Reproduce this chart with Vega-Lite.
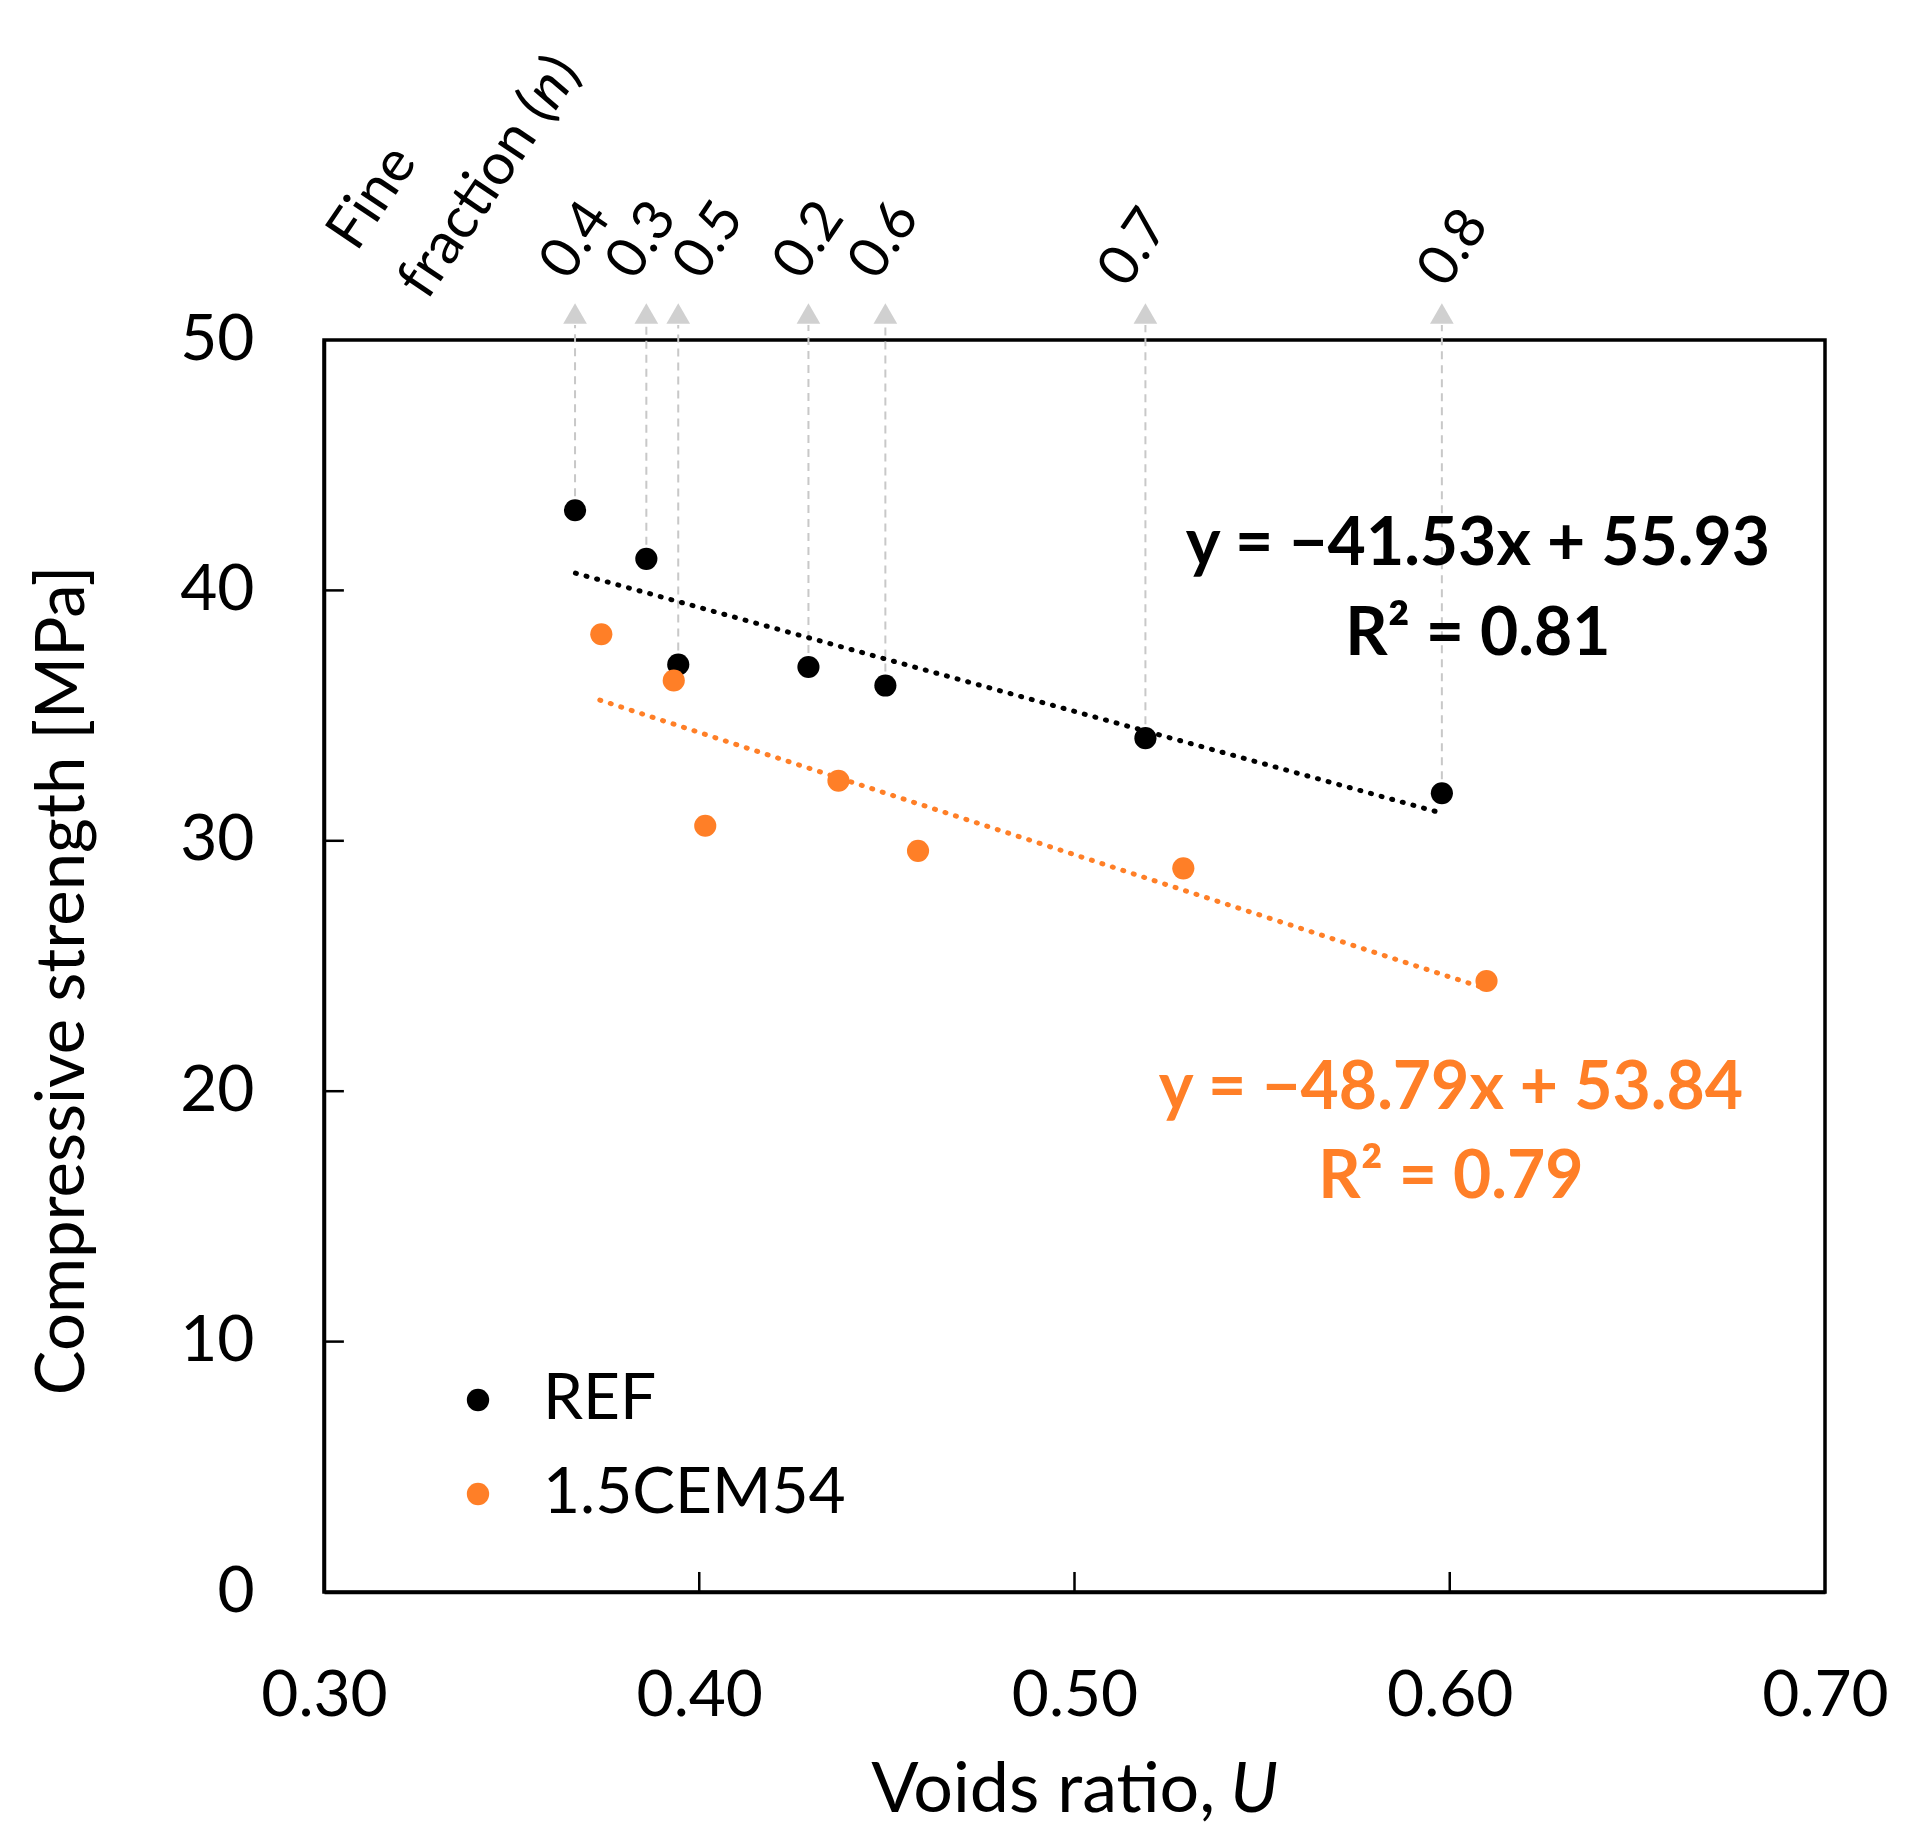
{
  "$schema": "https://vega.github.io/schema/vega-lite/v6.json",
  "width": 1501,
  "height": 1252,
  "autosize": {"type": "none"},
  "padding": {"left": 324, "top": 340, "right": 81, "bottom": 248},
  "background": "white",
  "config": {
    "font": "Lato",
    "view": {"stroke": "black", "strokeWidth": 3.5},
    "axis": {
      "grid": false,
      "domainColor": "black",
      "domainWidth": 3.5,
      "ticks": false,
      "tickSize": 0,
      "labelColor": "black",
      "labelFont": "Lato",
      "labelFontSize": 64,
      "labelFlush": false,
      "titleColor": "black",
      "titleFont": "Lato",
      "titleFontSize": 67,
      "titleFontWeight": "normal"
    },
    "legend": {
      "labelFont": "Lato",
      "labelFontSize": 64,
      "labelColor": "black",
      "labelLimit": 0
    }
  },
  "datasets": {
    "pts": [
      {"series": "REF", "x": 0.3669, "y": 43.2, "n": "0.4"},
      {"series": "REF", "x": 0.3859, "y": 41.26, "n": "0.3"},
      {"series": "REF", "x": 0.3944, "y": 37.04, "n": "0.5"},
      {"series": "REF", "x": 0.4291, "y": 36.94, "n": "0.2"},
      {"series": "REF", "x": 0.4496, "y": 36.2, "n": "0.6"},
      {"series": "REF", "x": 0.5189, "y": 34.1, "n": "0.7"},
      {"series": "REF", "x": 0.5979, "y": 31.9, "n": "0.8"},
      {"series": "1.5CEM54", "x": 0.3739, "y": 38.25, "n": "0.4"},
      {"series": "1.5CEM54", "x": 0.3932, "y": 36.4, "n": "0.3"},
      {"series": "1.5CEM54", "x": 0.4016, "y": 30.6, "n": "0.5"},
      {"series": "1.5CEM54", "x": 0.4371, "y": 32.4, "n": "0.2"},
      {"series": "1.5CEM54", "x": 0.4583, "y": 29.6, "n": "0.6"},
      {"series": "1.5CEM54", "x": 0.529, "y": 28.9, "n": "0.7"},
      {"series": "1.5CEM54", "x": 0.6098, "y": 24.4, "n": "0.8"}
    ],
    "nlabels": [
      {"n": "0.4", "x": 0.3709, "y": 53.6},
      {"n": "0.3", "x": 0.3885, "y": 53.6},
      {"n": "0.5", "x": 0.4064, "y": 53.6},
      {"n": "0.2", "x": 0.4331, "y": 53.6},
      {"n": "0.6", "x": 0.4531, "y": 53.6},
      {"n": "0.7", "x": 0.5197, "y": 53.3},
      {"n": "0.8", "x": 0.6048, "y": 53.3}
    ],
    "trend": [
      {"series": "REF", "x": 0.367, "y": 40.69},
      {"series": "REF", "x": 0.598, "y": 31.1},
      {"series": "1.5CEM54", "x": 0.3735, "y": 35.62},
      {"series": "1.5CEM54", "x": 0.6085, "y": 24.15}
    ],
    "eq": [
      {"series": "REF", "x": 0.6075, "y": 41.81, "text": "y = −41.53x + 55.93"},
      {"series": "REF", "x": 0.6075, "y": 38.22, "text": "R² = 0.81"},
      {"series": "1.5CEM54", "x": 0.6003, "y": 20.09, "text": "y = −48.79x + 53.84"},
      {"series": "1.5CEM54", "x": 0.6003, "y": 16.53, "text": "R² = 0.79"}
    ],
    "yticks": [{"v": 10}, {"v": 20}, {"v": 30}, {"v": 40}],
    "xticks": [{"v": 0.4}, {"v": 0.5}, {"v": 0.6}]
  },
  "layer": [
    {
      "data": {"name": "pts"},
      "transform": [{"filter": "datum.series == 'REF'"}],
      "mark": {"type": "rule", "color": "#c8c8c8", "strokeWidth": 2, "strokeDash": [8, 6]},
      "encoding": {
        "x": {"field": "x", "type": "quantitative", "scale": {"domain": [0.3, 0.7], "nice": false, "zero": false},
          "axis": {"values": [0.3, 0.4, 0.5, 0.6, 0.7], "format": ".2f", "title": null, "labelPadding": 72}},
        "y": {"field": "y", "type": "quantitative", "scale": {"domain": [0, 50], "nice": false},
          "axis": {"values": [0, 10, 20, 30, 40, 50], "format": "d", "title": "Compressive strength [MPa]",
            "labelPadding": 70, "titleX": -261, "titleY": 640, "titleBaseline": "middle"}},
        "y2": {"datum": 50.6}
      }
    },
    {
      "data": {"name": "pts"},
      "transform": [{"filter": "datum.series == 'REF'"}],
      "mark": {"type": "point", "shape": "triangle-up", "filled": true, "color": "#d0d0d0", "size": 560, "opacity": 1},
      "encoding": {
        "x": {"field": "x", "type": "quantitative"},
        "y": {"datum": 51.06}
      }
    },
    {
      "data": {"name": "yticks"},
      "mark": {"type": "rule", "color": "black", "strokeWidth": 2.5},
      "encoding": {
        "y": {"field": "v", "type": "quantitative"},
        "x": {"datum": 0.3},
        "x2": {"datum": 0.3053}
      }
    },
    {
      "data": {"name": "xticks"},
      "mark": {"type": "rule", "color": "black", "strokeWidth": 2.5},
      "encoding": {
        "x": {"field": "v", "type": "quantitative"},
        "y": {"datum": 0},
        "y2": {"datum": 0.8}
      }
    },
    {
      "data": {"name": "nlabels"},
      "mark": {"type": "text", "angle": -56, "align": "center", "baseline": "alphabetic", "fontSize": 56, "color": "black"},
      "encoding": {
        "x": {"field": "x", "type": "quantitative"},
        "y": {"field": "y", "type": "quantitative"},
        "text": {"field": "n"}
      }
    },
    {
      "data": {"name": "trend"},
      "transform": [{"filter": "datum.series == 'REF'"}],
      "mark": {"type": "line", "color": "black", "strokeWidth": 5, "strokeDash": [1, 10], "strokeCap": "round"},
      "encoding": {
        "x": {"field": "x", "type": "quantitative"},
        "y": {"field": "y", "type": "quantitative"}
      }
    },
    {
      "data": {"name": "trend"},
      "transform": [{"filter": "datum.series == '1.5CEM54'"}],
      "mark": {"type": "line", "color": "#FF7F27", "strokeWidth": 5, "strokeDash": [1, 10], "strokeCap": "round"},
      "encoding": {
        "x": {"field": "x", "type": "quantitative"},
        "y": {"field": "y", "type": "quantitative"}
      }
    },
    {
      "data": {"name": "pts"},
      "mark": {"type": "circle", "size": 490, "opacity": 1},
      "encoding": {
        "x": {"field": "x", "type": "quantitative"},
        "y": {"field": "y", "type": "quantitative"},
        "color": {"field": "series", "type": "nominal",
          "scale": {"domain": ["REF", "1.5CEM54"], "range": ["black", "#FF7F27"]},
          "legend": {"orient": "none", "legendX": 122, "legendY": 1028, "title": null, "padding": 0,
            "symbolType": "circle", "symbolSize": 500, "symbolOpacity": 1, "rowPadding": 30, "labelOffset": 33}}
      }
    },
    {
      "data": {"name": "eq"},
      "transform": [{"filter": "datum.series == 'REF'"}],
      "mark": {"type": "text", "align": "center", "baseline": "middle", "fontSize": 66, "fontWeight": "bold", "color": "black"},
      "encoding": {
        "x": {"field": "x", "type": "quantitative"},
        "y": {"field": "y", "type": "quantitative"},
        "text": {"field": "text"}
      }
    },
    {
      "data": {"name": "eq"},
      "transform": [{"filter": "datum.series == '1.5CEM54'"}],
      "mark": {"type": "text", "align": "center", "baseline": "middle", "fontSize": 66, "fontWeight": "bold", "color": "#FF7F27"},
      "encoding": {
        "x": {"field": "x", "type": "quantitative"},
        "y": {"field": "y", "type": "quantitative"},
        "text": {"field": "text"}
      }
    },
    {
      "data": {"values": [{"label": "Fine", "x": 0.3131, "y": 55.67}]},
      "mark": {"type": "text", "angle": -56, "align": "center", "baseline": "middle", "fontSize": 58, "color": "black"},
      "encoding": {
        "x": {"field": "x", "type": "quantitative"},
        "y": {"field": "y", "type": "quantitative"},
        "text": {"field": "label"}
      }
    },
    {
      "data": {"values": [{"label": "fraction (", "x": 0.3578, "y": 59.49}]},
      "mark": {"type": "text", "angle": -56, "align": "right", "baseline": "middle", "fontSize": 58, "color": "black"},
      "encoding": {
        "x": {"field": "x", "type": "quantitative"},
        "y": {"field": "y", "type": "quantitative"},
        "text": {"field": "label"}
      }
    },
    {
      "data": {"values": [{"label": "n", "x": 0.3578, "y": 59.49}]},
      "mark": {"type": "text", "angle": -56, "align": "left", "baseline": "middle", "fontSize": 58, "fontStyle": "italic", "color": "black"},
      "encoding": {
        "x": {"field": "x", "type": "quantitative"},
        "y": {"field": "y", "type": "quantitative"},
        "text": {"field": "label"}
      }
    },
    {
      "data": {"values": [{"label": ")", "x": 0.3578, "y": 59.49}]},
      "mark": {"type": "text", "angle": -56, "align": "left", "baseline": "middle", "fontSize": 58, "dx": 32, "color": "black"},
      "encoding": {
        "x": {"field": "x", "type": "quantitative"},
        "y": {"field": "y", "type": "quantitative"},
        "text": {"field": "label"}
      }
    },
    {
      "data": {"values": [{"label": "Voids ratio,", "x": 0.5375, "y": -8.79}]},
      "mark": {"type": "text", "align": "right", "baseline": "alphabetic", "fontSize": 70, "color": "black"},
      "encoding": {
        "x": {"field": "x", "type": "quantitative"},
        "y": {"field": "y", "type": "quantitative"},
        "text": {"field": "label"}
      }
    },
    {
      "data": {"values": [{"label": "U", "x": 0.5375, "y": -8.79}]},
      "mark": {"type": "text", "align": "left", "baseline": "alphabetic", "fontSize": 70, "fontStyle": "italic", "dx": 15, "color": "black"},
      "encoding": {
        "x": {"field": "x", "type": "quantitative"},
        "y": {"field": "y", "type": "quantitative"},
        "text": {"field": "label"}
      }
    }
  ]
}
